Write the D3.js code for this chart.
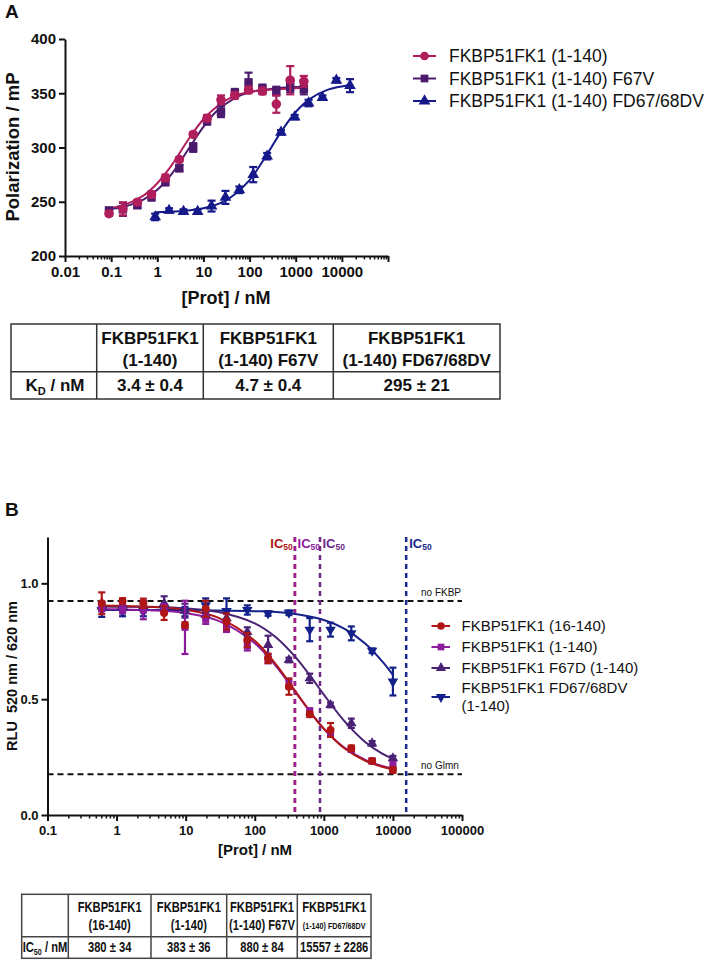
<!DOCTYPE html>
<html><head><meta charset="utf-8">
<script src="https://cdn.jsdelivr.net/npm/d3@7"></script>
<style>
body{margin:0;background:#fff}
svg{display:block}
text{font-family:"Liberation Sans",Arial,Helvetica,sans-serif;fill:#111}
</style>
</head><body>
<svg id="c" width="713" height="960"></svg>
<script>
// ---------------- Panel A data ----------------
const seriesA = ["FKBP51FK1 (1-140)", "FKBP51FK1 (1-140) F67V", "FKBP51FK1 (1-140) FD67/68DV"];
const concA12 = [0.09,0.18,0.37,0.75,1.5,3,6,12,24,48,95,190,380,760,1500];
const concA3  = [0.9,1.8,3.7,7.5,15,30,60,120,240,480,950,1900,3800,7600,15000];
const valA1 = [239,243.5,249.6,256.7,272,289,312,327,344,348,353,352,340,362,361];
const errA1 = [2,6,2,3,3,2,2,3,4,3,3,3,8,13,5];
const valA2 = [242,243,247,255,269,281,300,325,333,350,360,354,352,356,354];
const errA2 = [2,6,3,4,4,3,4,4,5,4,9,4,4,5,5];
const valA3 = [236,242,241,241,246,254,261,275,292,314,328,341,346,362,357];
const errA3 = [3,2,2,2,5,6,3,7,3,2,2,3,2,2,6];
// fitted curves
const curveXA12 = [0.09,0.2,0.5,1,2,5,10,20,50,100,200,500,1500];
const curveA1 = [244,247.3,255.6,267,283,309,326,338,348,351,353,354,355];
const curveA2 = [243.2,245.7,252,261,275,300,319,334,346,351,353,355,356];
const curveXA3 = [0.9,3,10,30,100,200,300,500,1000,2000,5000,15000];
const curveA3 = [240.4,241.2,244,251,270,288.5,300.5,315.5,332.7,344.6,353.3,357.7];
const ticksAX = [0.01,0.1,1,10,100,1000,10000,100000];
const tickLabelsAX = ["0.01","0.1","1","10","100","1000","10000",""];
const ticksAY = [200,250,300,350,400];

// ---------------- Panel B data ----------------
const seriesB = ["FKBP51FK1 (16-140)", "FKBP51FK1 (1-140)", "FKBP51FK1 F67D (1-140)", "FKBP51FK1 FD67/68DV", "(1-140)"];
const concB = [0.61,1.22,2.44,4.88,9.77,19.5,39,78,156,312,625,1250,2500,5000,10000];
const valB1 = [0.914,0.924,0.914,0.872,0.82,0.89,0.835,0.755,0.676,0.554,0.435,0.367,0.288,0.233,0.194];
const errB1 = [0.047,0.012,0.02,0.03,0.012,0.035,0.035,0.03,0.02,0.035,0.012,0.03,0.012,0.01,0.012];
const valB2 = [0.90,0.89,0.885,0.89,0.81,0.845,0.81,0.73,0.67,0.568,0.446,0.355,0.283,0.233,0.209];
const errB2 = [0.02,0.02,0.04,0.02,0.115,0.02,0.02,0.02,0.015,0.02,0.015,0.015,0.01,0.01,0.02];
const valB3 = [0.90,0.906,0.90,0.914,0.882,0.863,0.849,0.79,0.734,0.669,0.59,0.475,0.396,0.309,0.245];
const errB3 = [0.02,0.02,0.02,0.03,0.03,0.01,0.02,0.02,0.04,0.01,0.02,0.01,0.02,0.01,0.01];
const valB4 = [0.885,0.878,0.878,0.888,0.878,0.905,0.88,0.885,0.87,0.873,0.80,0.80,0.784,0.709,0.576];
const errB4 = [0.03,0.02,0.02,0.015,0.02,0.03,0.055,0.02,0.01,0.01,0.05,0.03,0.03,0.01,0.06];
const curveXB = [0.61,1,3,10,30,100,200,400,700,1000,2000,4000,7000,10000];
const curveB1 = [0.904,0.903,0.899,0.886,0.851,0.752,0.652,0.528,0.429,0.372,0.287,0.234,0.208,0.197];
const curveB2 = [0.889,0.888,0.884,0.872,0.838,0.742,0.645,0.525,0.428,0.373,0.290,0.2375,0.212,0.201];
const curveB3 = [0.8995,0.899,0.898,0.892,0.876,0.827,0.768,0.677,0.583,0.52,0.404,0.314,0.265,0.243];
const curveXB4 = [0.61,10,100,300,1000,2000,4000,7000,10000];
const curveB4 = [0.885,0.8845,0.880,0.8715,0.842,0.8035,0.739,0.663,0.605];
const ic50B = [380,383,880,15557];
const refLevelsB = [0.924,0.176];
const refLabelsB = ["no FKBP","no Glmn"];
const ticksBX = [0.1,1,10,100,1000,10000,100000];
const tickLabelsBX = ["0.1","1","10","100","1000","10000","100000"];
const ticksBY = [0,0.5,1.0];
const tickLabelsBY = ["0.0","0.5","1.0"];

// ---------------- Tables ----------------
const tableAHead1 = ["", "FKBP51FK1", "FKBP51FK1", "FKBP51FK1"];
const tableAHead2 = ["", "(1-140)", "(1-140) F67V", "(1-140) FD67/68DV"];
const tableAVals = ["3.4 ± 0.4", "4.7 ± 0.4", "295 ± 21"];
const tableBHead1 = ["", "FKBP51FK1", "FKBP51FK1", "FKBP51FK1", "FKBP51FK1"];
const tableBHead2 = ["", "(16-140)", "(1-140)", "(1-140) F67V", "(1-140) FD67/68DV"];
const tableBVals = ["380 ± 34", "383 ± 36", "880 ± 84", "15557 ± 2286"];

// ---------------- styles ----------------
const colA = ["#b01e5c", "#4b1a6c", "#16198a"];
const colB = ["#b01616", "#8d1b9d", "#4a2275", "#15218a"];
const vColB = ["#b01616", "#9a1f95", "#6a2a82", "#1a2a8a"];

const svg = d3.select("#c");

function minorTicks(lo, hi){
  const out=[];
  for(let d=lo; d<hi; d*=10){ for(let m=2;m<=9;m++) out.push(+(m*d).toPrecision(3)); }
  return out;
}
function styleAxis(g, fs){
  g.selectAll("path.domain").attr("stroke","#111").attr("stroke-width",2);
  g.selectAll(".tick line").attr("stroke","#111").attr("stroke-width",2);
  g.selectAll(".tick text").attr("font-size",fs).attr("font-weight","bold").attr("fill","#111")
    .style("font-family","'Liberation Sans',Arial,sans-serif");
}
function sym(type, size){ return d3.symbol().type(type).size(size)(); }
// condensed text: horizontally scaled group
function narrowText(parent, x, y, f, fs){
  return parent.append("g").attr("transform",`translate(${x},${y}) scale(${f},1)`)
    .append("text").attr("x",0).attr("y",0).attr("text-anchor","middle").attr("font-size",fs).attr("font-weight","bold");
}

function drawSeries(g, x, y, xs, ys, es, color, type, size, cap, rot){
  const eg = g.append("g");
  xs.forEach((c,i)=>{
    const cx = x(c), y1 = y(ys[i]-es[i]), y2 = y(ys[i]+es[i]);
    eg.append("line").attr("x1",cx).attr("x2",cx).attr("y1",y1).attr("y2",y2).attr("stroke",color).attr("stroke-width",2.2);
    [y1,y2].forEach(yy=>eg.append("line").attr("x1",cx-cap).attr("x2",cx+cap).attr("y1",yy).attr("y2",yy).attr("stroke",color).attr("stroke-width",2.2));
  });
  g.append("g").selectAll("path").data(xs).join("path")
    .attr("d", sym(type,size))
    .attr("transform",(c,i)=>`translate(${x(c)},${y(ys[i])})${rot?" rotate(180)":""}`)
    .attr("fill",color);
}
function drawCurve(g, x, y, xs, ys, color, w){
  const line = d3.line().x(d=>x(d[0])).y(d=>y(d[1])).curve(d3.curveCatmullRom.alpha(0.5));
  g.append("path").attr("d", line(xs.map((c,i)=>[c,ys[i]]))).attr("fill","none").attr("stroke",color).attr("stroke-width",w);
}

// =============== Panel A ===============
const xA = d3.scaleLog().domain([0.01,100000]).range([65,388]);
const yA = d3.scaleLinear().domain([200,400]).range([256,39]);
const gA = svg.append("g");

svg.append("text").attr("x",5).attr("y",18).attr("font-size",19).attr("font-weight","bold").text("A");

const axAx = gA.append("g").attr("transform","translate(0,256)")
  .call(d3.axisBottom(xA).tickValues(ticksAX).tickFormat((d,i)=>tickLabelsAX[i]).tickSize(6).tickSizeOuter(0).tickPadding(4));
styleAxis(axAx, 15);
const axAm = gA.append("g").attr("transform","translate(0,256)")
  .call(d3.axisBottom(xA).tickValues(minorTicks(0.01,100000)).tickFormat("").tickSize(3.5).tickSizeOuter(0));
axAm.select("path.domain").remove(); axAm.selectAll(".tick line").attr("stroke","#111").attr("stroke-width",1.5);
const axAy = gA.append("g").attr("transform","translate(65,0)")
  .call(d3.axisLeft(yA).tickValues(ticksAY).tickFormat(d3.format("d")).tickSize(6).tickSizeOuter(0).tickPadding(3));
styleAxis(axAy, 15);

gA.append("text").attr("x",226).attr("y",304).attr("text-anchor","middle").attr("font-size",18).attr("font-weight","bold").text("[Prot] / nM");
gA.append("text").attr("transform","translate(19,147) rotate(-90)").attr("text-anchor","middle").attr("font-size",18.5).attr("font-weight","bold").text("Polarization / mP");

drawCurve(gA, xA, yA, curveXA3, curveA3, colA[2], 2);
drawCurve(gA, xA, yA, curveXA12, curveA2, colA[1], 2);
drawCurve(gA, xA, yA, curveXA12, curveA1, colA[0], 2);
drawSeries(gA, xA, yA, concA3, valA3, errA3, colA[2], d3.symbolTriangle, 60, 4, false);
drawSeries(gA, xA, yA, concA12, valA2, errA2, colA[1], d3.symbolSquare, 72, 4, false);
drawSeries(gA, xA, yA, concA12, valA1, errA1, colA[0], d3.symbolCircle, 72, 4, false);

// legend A
const legA = svg.append("g");
const legAy = [56, 78.5, 101];
const legAtypes = [d3.symbolCircle, d3.symbolSquare, d3.symbolTriangle];
seriesA.forEach((s,i)=>{
  legA.append("line").attr("x1",413).attr("x2",436).attr("y1",legAy[i]).attr("y2",legAy[i]).attr("stroke",colA[i]).attr("stroke-width",2);
  legA.append("path").attr("d",sym(legAtypes[i],60)).attr("transform",`translate(424.5,${legAy[i]})`).attr("fill",colA[i]);
  legA.append("text").attr("x",449).attr("y",legAy[i]+6).attr("font-size",17.5).text(s);
});

// Table A
const tA = svg.append("g");
const colEdgesA = [11, 96.7, 203.3, 333.3, 500];
const rowEdgesA = [324, 371.7, 399];
tA.append("rect").attr("x",colEdgesA[0]).attr("y",rowEdgesA[0]).attr("width",colEdgesA[4]-colEdgesA[0]).attr("height",rowEdgesA[2]-rowEdgesA[0]).attr("fill","none").attr("stroke","#333").attr("stroke-width",1.5);
colEdgesA.slice(1,4).forEach(cx=>tA.append("line").attr("x1",cx).attr("x2",cx).attr("y1",rowEdgesA[0]).attr("y2",rowEdgesA[2]).attr("stroke","#333").attr("stroke-width",1.5));
tA.append("line").attr("x1",colEdgesA[0]).attr("x2",colEdgesA[4]).attr("y1",rowEdgesA[1]).attr("y2",rowEdgesA[1]).attr("stroke","#333").attr("stroke-width",1.5);
for(let i=1;i<4;i++){
  const cx = (colEdgesA[i]+colEdgesA[i+1])/2;
  tA.append("text").attr("x",cx).attr("y",344).attr("text-anchor","middle").attr("font-size",17).attr("font-weight","bold").text(tableAHead1[i]);
  tA.append("text").attr("x",cx).attr("y",366).attr("text-anchor","middle").attr("font-size",17).attr("font-weight","bold").text(tableAHead2[i]);
  tA.append("text").attr("x",cx).attr("y",391).attr("text-anchor","middle").attr("font-size",17).attr("font-weight","bold").text(tableAVals[i-1]);
}
const kd = tA.append("text").attr("x",55).attr("y",391).attr("text-anchor","middle").attr("font-size",17).attr("font-weight","bold");
kd.append("tspan").text("K");
kd.append("tspan").attr("font-size",11).attr("dy",4).text("D");
kd.append("tspan").attr("dy",-4).text(" / nM");

// =============== Panel B ===============
const xB = d3.scaleLog().domain([0.1,100000]).range([47.5,462]);
const yB = d3.scaleLinear().domain([0,1.2]).range([815,537]);
const gB = svg.append("g");

svg.append("text").attr("x",5).attr("y",516).attr("font-size",19).attr("font-weight","bold").text("B");

// reference dashed lines
refLevelsB.forEach((v,i)=>{
  gB.append("line").attr("x1",xB(0.1)).attr("x2",xB(100000)).attr("y1",yB(v)).attr("y2",yB(v)).attr("stroke","#111").attr("stroke-width",2).attr("stroke-dasharray","6,4");
  gB.append("text").attr("x",421).attr("y",yB(v)-5).attr("font-size",10).text(refLabelsB[i]);
});
// IC50 vertical lines
ic50B.forEach((v,i)=>{
  gB.append("line").attr("x1",xB(v)).attr("x2",xB(v)).attr("y1",537).attr("y2",815).attr("stroke",vColB[i]).attr("stroke-width",2.5).attr("stroke-dasharray","5,4");
});
const icAnchors = ["end","start","start","start"];
const icDx = [-2,2.5,2.5,3];
const icCol = ["#b01616","#8d1b9d","#6a2a8a","#1a2a8a"];
ic50B.forEach((v,i)=>{
  const t = gB.append("text").attr("x",xB(v)+icDx[i]).attr("y",548).attr("text-anchor",icAnchors[i]).attr("font-size",13).attr("font-weight","bold").attr("fill",icCol[i]);
  t.append("tspan").attr("fill",icCol[i]).text("IC");
  t.append("tspan").attr("fill",icCol[i]).attr("font-size",8.5).attr("dy",2).text("50");
});

const axBx = gB.append("g").attr("transform","translate(0,815)")
  .call(d3.axisBottom(xB).tickValues(ticksBX).tickFormat((d,i)=>tickLabelsBX[i]).tickSize(6).tickSizeOuter(0).tickPadding(5));
styleAxis(axBx, 13);
const axBm = gB.append("g").attr("transform","translate(0,815)")
  .call(d3.axisBottom(xB).tickValues(minorTicks(0.1,100000)).tickFormat("").tickSize(3.5).tickSizeOuter(0));
axBm.select("path.domain").remove(); axBm.selectAll(".tick line").attr("stroke","#111").attr("stroke-width",1.5);
const axBy = gB.append("g").attr("transform","translate(47.5,0)")
  .call(d3.axisLeft(yB).tickValues(ticksBY).tickFormat((d,i)=>tickLabelsBY[i]).tickSize(6).tickSizeOuter(0).tickPadding(3));
styleAxis(axBy, 13);

gB.append("text").attr("x",255).attr("y",855).attr("text-anchor","middle").attr("font-size",15).attr("font-weight","bold").text("[Prot] / nM");
gB.append("text").attr("transform","translate(17,676) rotate(-90)").attr("text-anchor","middle").attr("font-size",14.5).attr("font-weight","bold").style("white-space","pre").text("RLU  520 nm / 620 nm");

drawCurve(gB, xB, yB, curveXB4, curveB4, colB[3], 2);
drawCurve(gB, xB, yB, curveXB, curveB3, colB[2], 2);
drawCurve(gB, xB, yB, curveXB, curveB2, colB[1], 2);
drawCurve(gB, xB, yB, curveXB, curveB1, colB[0], 2);
drawSeries(gB, xB, yB, concB, valB4, errB4, colB[3], d3.symbolTriangle, 48, 3.5, true);
drawSeries(gB, xB, yB, concB, valB3, errB3, colB[2], d3.symbolTriangle, 48, 3.5, false);
drawSeries(gB, xB, yB, concB, valB2, errB2, colB[1], d3.symbolSquare, 50, 3.5, false);
drawSeries(gB, xB, yB, concB, valB1, errB1, colB[0], d3.symbolCircle, 50, 3.5, false);

// legend B
const legB = svg.append("g");
const legBy = [626, 647, 668, 697];
const legBtypes = [d3.symbolCircle, d3.symbolSquare, d3.symbolTriangle, d3.symbolTriangle];
[0,1,2,3].forEach(i=>{
  legB.append("line").attr("x1",431.5).attr("x2",450).attr("y1",legBy[i]).attr("y2",legBy[i]).attr("stroke",colB[i]).attr("stroke-width",2);
  legB.append("path").attr("d",sym(legBtypes[i],45)).attr("transform",`translate(441,${legBy[i]})${i===3?" rotate(180)":""}`).attr("fill",colB[i]);
});
legB.append("text").attr("x",461.5).attr("y",631).attr("font-size",15).text(seriesB[0]);
legB.append("text").attr("x",461.5).attr("y",652).attr("font-size",15).text(seriesB[1]);
legB.append("text").attr("x",461.5).attr("y",673).attr("font-size",15).text(seriesB[2]);
legB.append("text").attr("x",461.5).attr("y",693).attr("font-size",15).text(seriesB[3]);
legB.append("text").attr("x",461.5).attr("y",711).attr("font-size",15).text(seriesB[4]);

// Table B
const tB = svg.append("g");
const colEdgesB = [21.7, 68.3, 151, 226.7, 297.3, 371];
const rowEdgesB = [894.3, 936.7, 958.3];
tB.append("rect").attr("x",colEdgesB[0]).attr("y",rowEdgesB[0]).attr("width",colEdgesB[5]-colEdgesB[0]).attr("height",rowEdgesB[2]-rowEdgesB[0]).attr("fill","none").attr("stroke","#444").attr("stroke-width",1.5);
colEdgesB.slice(1,5).forEach(cx=>tB.append("line").attr("x1",cx).attr("x2",cx).attr("y1",rowEdgesB[0]).attr("y2",rowEdgesB[2]).attr("stroke","#444").attr("stroke-width",1.5));
tB.append("line").attr("x1",colEdgesB[0]).attr("x2",colEdgesB[5]).attr("y1",rowEdgesB[1]).attr("y2",rowEdgesB[1]).attr("stroke","#444").attr("stroke-width",1.5);
for(let i=1;i<5;i++){
  const cx = (colEdgesB[i]+colEdgesB[i+1])/2;
  narrowText(tB, cx, 911.5, 0.8, 14).text(tableBHead1[i]);
  narrowText(tB, cx, i===4?929:930, 0.8, i===4?9:14).text(tableBHead2[i]);
  narrowText(tB, cx, 952, 0.8, 14).text(tableBVals[i-1]);
}
const icl = narrowText(tB, 45, 952, 0.8, 14);
icl.append("tspan").text("IC");
icl.append("tspan").attr("font-size",9).attr("dy",3).text("50");
icl.append("tspan").attr("dy",-3).text(" / nM");
</script>
</body></html>
